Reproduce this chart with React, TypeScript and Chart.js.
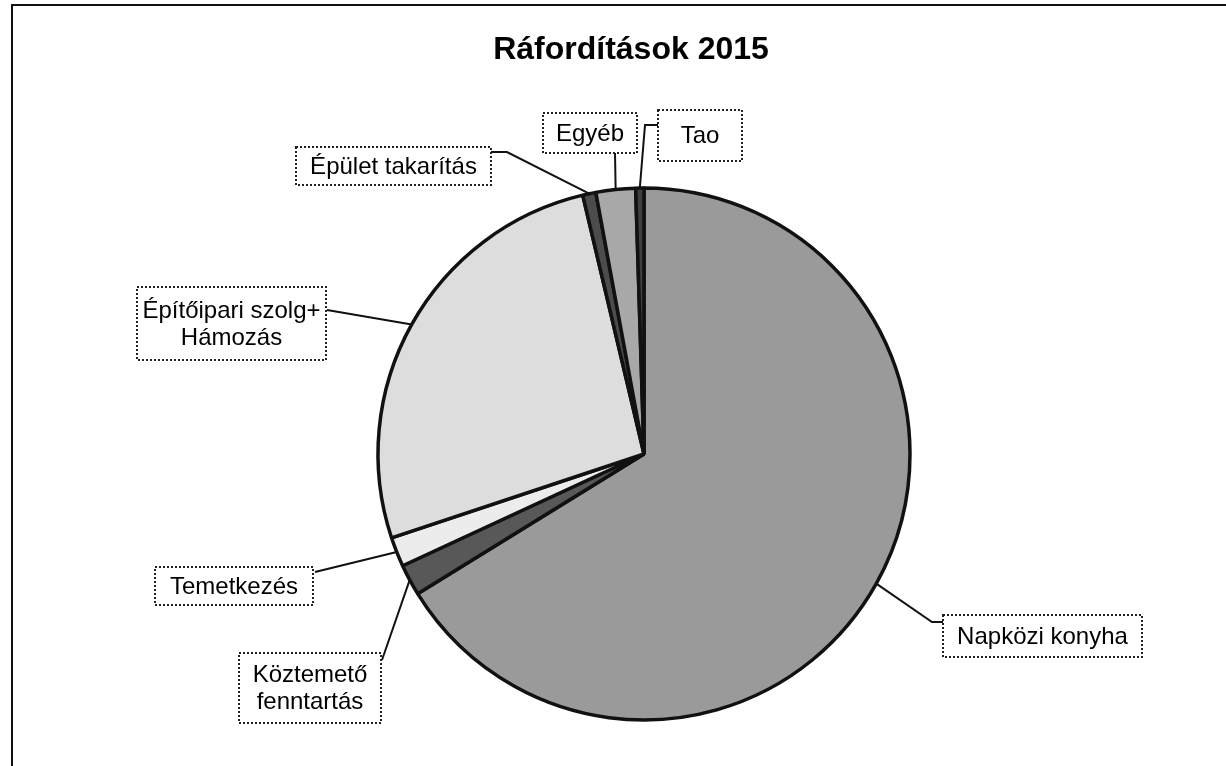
import React, { useEffect, useRef } from "react";
import { Chart, registerables } from "chart.js";

Chart.register(...registerables);

const TITLE = "Ráfordítások 2015";
const categories = [
  "Napközi konyha",
  "Köztemető fenntartás",
  "Temetkezés",
  "Építőipari szolg+ Hámozás",
  "Épület takarítás",
  "Egyéb",
  "Tao",
];
const values = [66.2, 1.9, 1.8, 26.4, 0.8, 2.4, 0.5];
const labelLines = [
  ["Napközi konyha"],
  ["Köztemető", "fenntartás"],
  ["Temetkezés"],
  ["Építőipari szolg+", "Hámozás"],
  ["Épület takarítás"],
  ["Egyéb"],
  ["Tao"],
];
const sliceColors = ["#9a9a9a", "#585858", "#ececec", "#dddddd", "#4c4c4c", "#a8a8a8", "#404040"];

// label box layout: [x, y, w, h] and leader elbow points (from slice edge towards box)
const labelBoxes = [
  [943, 615, 199, 42],
  [239, 653, 142, 70],
  [155, 567, 158, 38],
  [137, 287, 189, 73],
  [296, 147, 195, 38],
  [543, 113, 94, 40],
  [658, 110, 84, 51],
];
const leaderPaths = [
  [[932, 622], [943, 622]],
  [[382, 660]],
  [[315, 572]],
  [[327, 310]],
  [[507, 152], [491, 152]],
  [[615, 153]],
  [[645, 125], [658, 125]],
];

const FONT = "'Liberation Sans', Arial, Helvetica, sans-serif";

const decorPlugin = {
  id: "decor",
  beforeDraw(chart: any) {
    const ctx = chart.ctx;
    ctx.save();
    ctx.fillStyle = "#ffffff";
    ctx.fillRect(0, 0, chart.width, chart.height);
    ctx.strokeStyle = "#111";
    ctx.lineWidth = 2;
    ctx.beginPath();
    ctx.moveTo(12, chart.height);
    ctx.lineTo(12, 5);
    ctx.lineTo(chart.width, 5);
    ctx.stroke();
    ctx.restore();
  },
  afterDraw(chart: any) {
    const ctx = chart.ctx;
    ctx.save();
    // title
    ctx.fillStyle = "#000";
    ctx.font = `bold 32px ${FONT}`;
    ctx.textAlign = "center";
    ctx.textBaseline = "middle";
    ctx.fillText(TITLE, 631, 50);

    const meta = chart.getDatasetMeta(0);
    meta.data.forEach((arc: any, i: number) => {
      const p = arc.getProps(["x", "y", "startAngle", "endAngle", "outerRadius"], true);
      const mid = (p.startAngle + p.endAngle) / 2;
      const ax = p.x + Math.cos(mid) * p.outerRadius;
      const ay = p.y + Math.sin(mid) * p.outerRadius;
      // leader line
      ctx.strokeStyle = "#111";
      ctx.lineWidth = 2;
      ctx.setLineDash([]);
      ctx.beginPath();
      ctx.moveTo(ax, ay);
      leaderPaths[i].forEach((pt) => ctx.lineTo(pt[0], pt[1]));
      ctx.stroke();
      // box
      const [bx, by, bw, bh] = labelBoxes[i];
      ctx.fillStyle = "#ffffff";
      ctx.fillRect(bx, by, bw, bh);
      ctx.setLineDash([2, 2]);
      ctx.lineWidth = 2;
      ctx.strokeStyle = "#222";
      ctx.strokeRect(bx, by, bw, bh);
      ctx.setLineDash([]);
      // text
      ctx.fillStyle = "#000";
      ctx.font = `24px ${FONT}`;
      ctx.textAlign = "center";
      ctx.textBaseline = "middle";
      const lines = labelLines[i];
      const lh = 27;
      const cy = by + bh / 2 - ((lines.length - 1) * lh) / 2 + 1;
      lines.forEach((t, k) => ctx.fillText(t, bx + bw / 2, cy + k * lh));
    });
    ctx.restore();
  },
};

export default function App() {
  const ref = useRef<HTMLCanvasElement | null>(null);
  useEffect(() => {
    if (!ref.current) return;
    const chart = new Chart(ref.current, {
      type: "pie",
      data: {
        labels: categories,
        datasets: [
          {
            data: values,
            backgroundColor: sliceColors,
            borderColor: "#111",
            borderWidth: 3.5,
          },
        ],
      },
      options: {
        responsive: false,
        animation: false,
        radius: 266,
        layout: { padding: { left: 378, right: 316, top: 188, bottom: 46 } },
        plugins: {
          legend: { display: false },
          tooltip: { enabled: false },
          title: { display: false },
        },
      } as any,
      plugins: [decorPlugin],
    });
    return () => chart.destroy();
  }, []);
  return (
    <div style={{ position: "fixed", left: 0, top: 0, width: 1226, height: 766, background: "#fff" }}>
      <canvas ref={ref} width={1226} height={766} style={{ display: "block", width: 1226, height: 766 }} />
    </div>
  );
}
